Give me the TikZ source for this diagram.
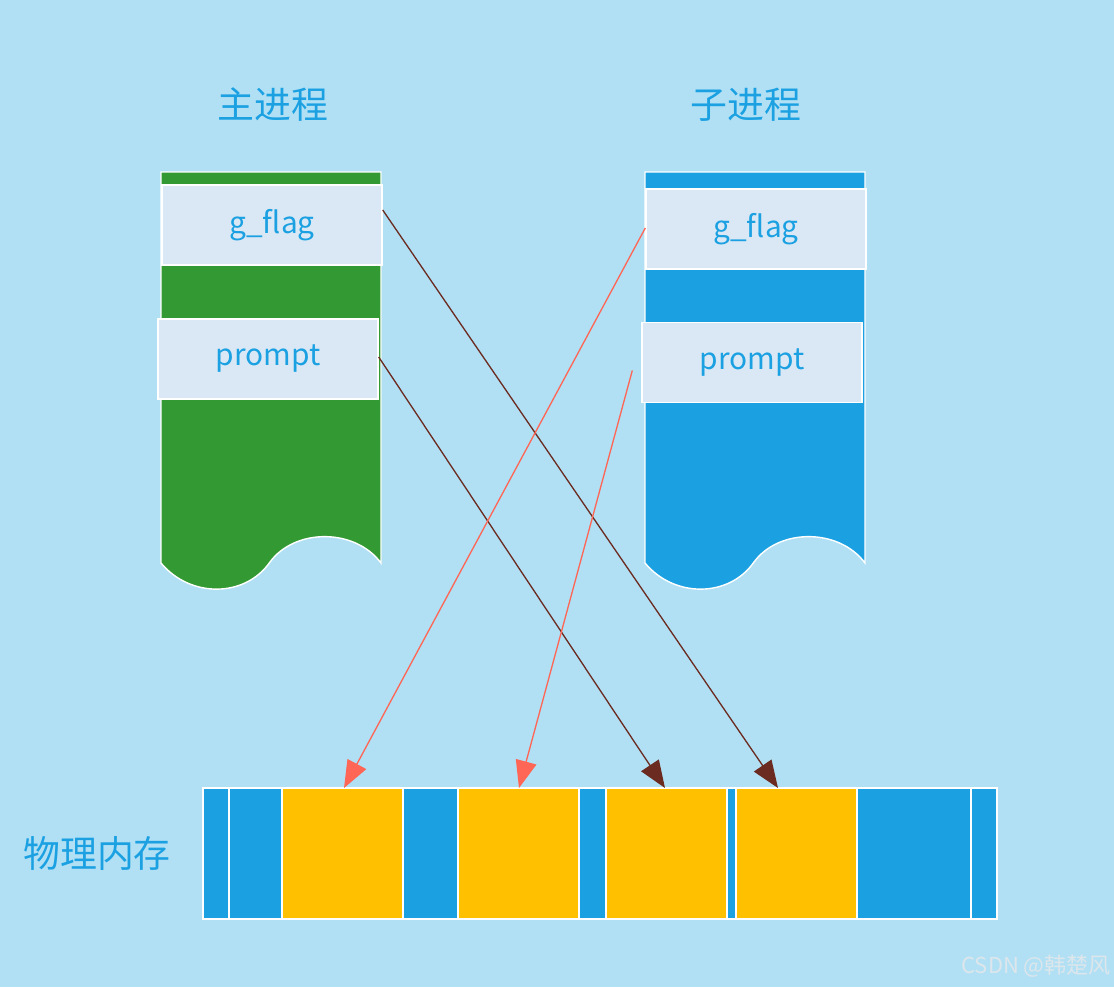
\documentclass[tikz,border=0pt]{standalone}
\usepackage{fontspec}
\setmainfont{Noto Sans CJK SC}
\usetikzlibrary{arrows.meta,calc}
\definecolor{bgblue}{HTML}{B1E0F5}
\definecolor{mainGreen}{HTML}{339933}
\definecolor{childBlue}{HTML}{1BA1E2}
\definecolor{fieldFill}{HTML}{DAE8F5}
\definecolor{memYellow}{HTML}{FFC000}
\definecolor{darkArrow}{HTML}{6B2B20}
\definecolor{redArrow}{HTML}{FF6655}
\definecolor{markGray}{HTML}{DCE6EB}
\newcommand{\pxu}{0.02cm}
\tikzset{
	body/.style = {draw=white, line width=0.8pt},
	field/.style = {draw=white, line width=0.8pt, fill=fieldFill, text=childBlue, minimum width=220*\pxu, minimum height=80*\pxu, inner sep=0pt, font=\fontsize{17}{20}\selectfont},
	title/.style = {text=childBlue, font=\fontsize{21}{25}\selectfont},
	seg/.style = {draw=white, line width=0.8pt, fill=#1, minimum height=131*\pxu, inner sep=0pt, outer sep=0pt, anchor=north west},
	ptr/.style = {line width=0.75pt, -{Triangle[length=15.5pt, width=12pt]}}
}

\begin{document}
\begin{tikzpicture}[x=0.02cm, y=-0.02cm]
		\useasboundingbox (0,0) rectangle (1114,987);
		\fill[bgblue] (0,0) rectangle (1114,987);

		\node[title] (mainT) at (273,105) {主进程};
		\node[title] (childT) at (746,105) {子进程};
		\node[title] (memT) at (97,853) {物理内存};

		\path[body, fill=mainGreen] (161,172) -- (381,172) -- (381,563)
			.. controls (355,528) and (295,528) .. (270,562)
			.. controls (245,598) and (190,598) .. (161,563) -- cycle;
		\path[body, fill=childBlue, shift={(484,0)}] (161,172) -- (381,172) -- (381,563)
			.. controls (355,528) and (295,528) .. (270,562)
			.. controls (245,598) and (190,598) .. (161,563) -- cycle;

		\node[field] (lg) at (272,225) {g\_flag};
		\node[field] (lp) at (268,359) {prompt};
		\node[field] (rg) at (756,229) {g\_flag};
		\node[field] (rp) at (752,362.5) {prompt};

		\foreach \a/\b/\c/\n in {203/229/childBlue/m1, 229/282/childBlue/m2, 282/403/memYellow/m3,
			403/458/childBlue/m4, 458/579/memYellow/m5, 579/606/childBlue/m6, 606/727/memYellow/m7,
			727/736/childBlue/m8, 736/857/memYellow/m9, 857/971/childBlue/m10, 971/997/childBlue/m11}
			\node[seg=\c, minimum width={(\b-\a)*\pxu}] (\n) at (\a,788) {};

		\draw[ptr, darkArrow] ($(lg.east)+(0,-15)$) -- ($(m9.north west)+(42,0)$);
		\draw[ptr, darkArrow] ($(lp.east)+(0,-2)$) -- ($(m7.north west)+(59,0)$);
		\draw[ptr, redArrow] ($(rg.west)+(0,-1)$) -- ($(m3.north west)+(62,0)$);
		\draw[ptr, redArrow] ($(rp.west)+(-9,8)$) -- ($(m5.north west)+(61,0)$);

		\node[text=markGray, font=\fontsize{12.5}{15}\selectfont] (mark) at (1036,966) {CSDN @韩楚风};
	\end{tikzpicture}
\end{document}
